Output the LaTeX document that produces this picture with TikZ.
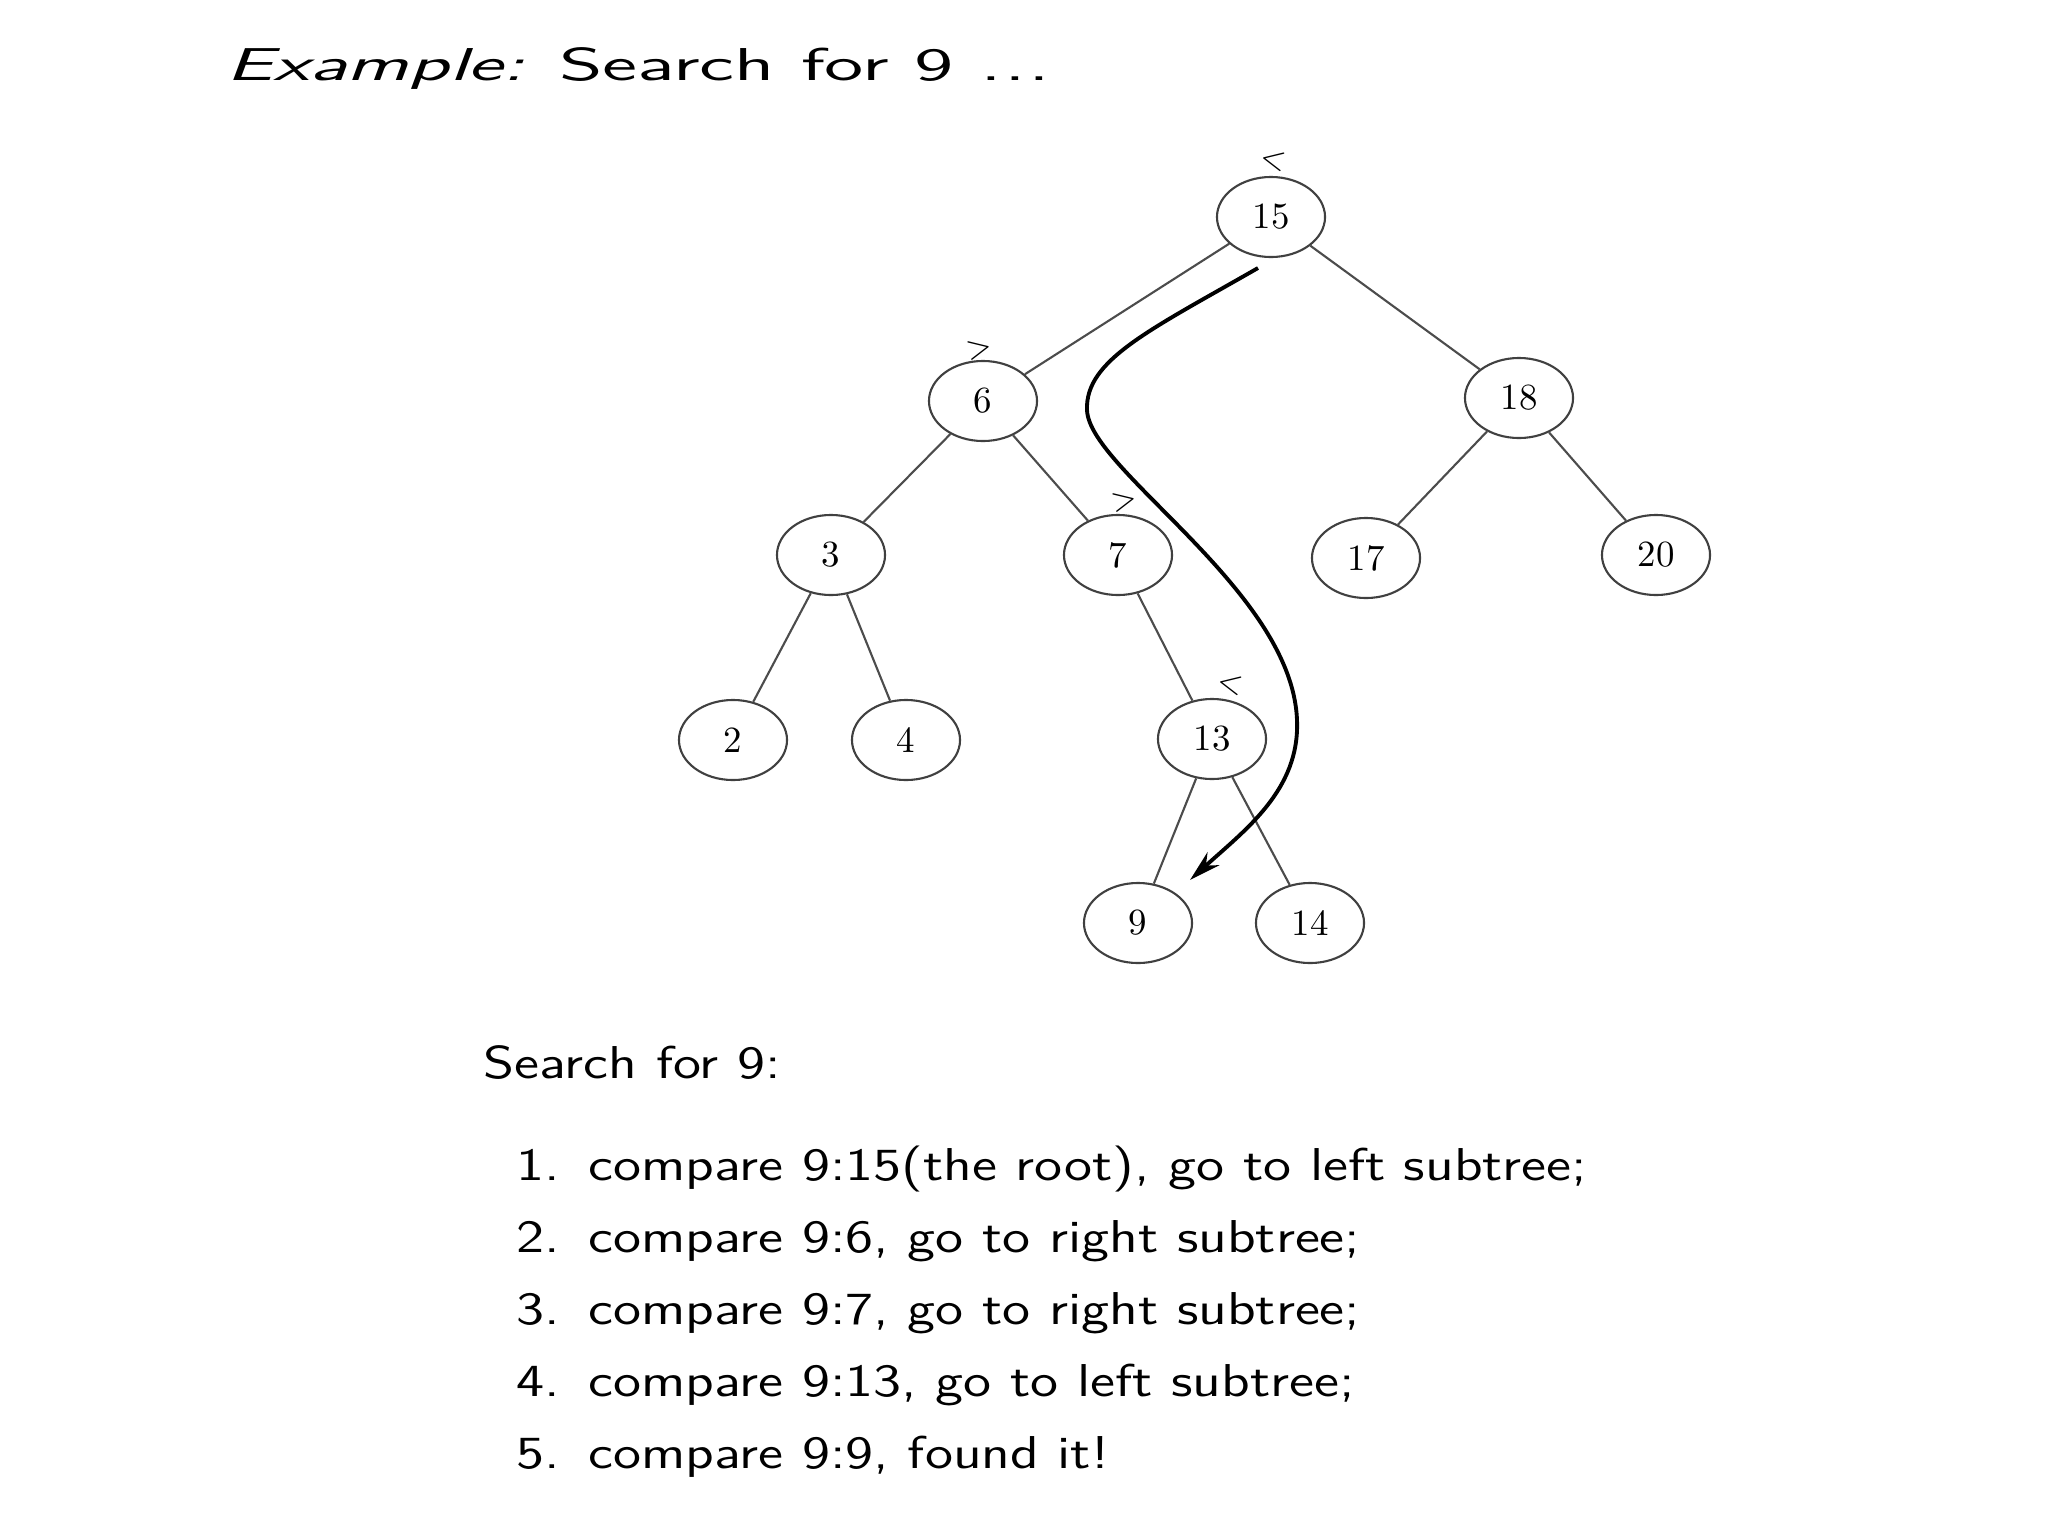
\documentclass[tikz,border=0pt]{standalone}
\usepackage{fontspec}
\usepackage{graphicx}
\usetikzlibrary{shapes.geometric,arrows.meta}
\tikzset{
  tnode/.style={draw=black!75, line width=0.6pt, ellipse, minimum width=1.08cm, minimum height=0.80cm, inner sep=0pt, font=\fontsize{10.5}{12}\selectfont},
  tedge/.style={draw=black!70, line width=0.6pt},
  cmp/.style={inner sep=0pt, font=\fontsize{9}{10}\selectfont},
  txt/.style={inner sep=0pt, anchor=base west, font=\sffamily\fontsize{13.1}{16}\selectfont},
  searchpath/.style={draw=black, line width=1.1pt, -{Stealth[length=9pt,width=5pt]}}
}
\newcommand{\wideline}[1]{\scalebox{1.24}[1]{#1}}
\begin{document}
\begin{tikzpicture}[x=0.01cm,y=-0.01cm]
\useasboundingbox (0,0) rectangle (2048,1536);
% title
\node[txt] (title) at (226,80) {\scalebox{1.74}[1]{\textsl{Example:} Search for 9 .\kern0.03em.\kern0.03em.}};
% tree
\node[tnode] (n15) at (1271,217) {15};
\node[tnode] (n6)  at (983,401)  {6};
\node[tnode] (n18) at (1519,398) {18};
\node[tnode] (n3)  at (831,555)  {3};
\node[tnode] (n7)  at (1118,555) {7};
\node[tnode] (n17) at (1366,558) {17};
\node[tnode] (n20) at (1656,555) {20};
\node[tnode] (n2)  at (733,740)  {2};
\node[tnode] (n4)  at (906,740)  {4};
\node[tnode] (n13) at (1212,739) {13};
\node[tnode] (n9)  at (1138,923) {9};
\node[tnode] (n14) at (1310,923) {14};
\draw[tedge] (n15) -- (n6);
\draw[tedge] (n15) -- (n18);
\draw[tedge] (n6) -- (n3);
\draw[tedge] (n6) -- (n7);
\draw[tedge] (n18) -- (n17);
\draw[tedge] (n18) -- (n20);
\draw[tedge] (n3) -- (n2);
\draw[tedge] (n3) -- (n4);
\draw[tedge] (n7) -- (n13);
\draw[tedge] (n13) -- (n9);
\draw[tedge] (n13) -- (n14);
% comparison marks
\node[cmp,rotate=-12] (c15) at (1273,160) {$<$};
\node[cmp,rotate=12]  (c6)  at (979,349)  {$>$};
\node[cmp,rotate=12]  (c7)  at (1124,501) {$>$};
\node[cmp,rotate=-12] (c13) at (1230,684) {$<$};
% search path
\coordinate (s0) at (1258,268);
\coordinate (s1) at (1087,410);
\coordinate (s2) at (1297,720);
\coordinate (s3) at (1190,880);
\draw[searchpath] (s0) .. controls (1150,330) and (1085,360) .. (s1)
  .. controls (1089,470) and (1292,590) .. (s2)
  .. controls (1300,790) and (1245,830) .. (s3);
% text
\node[txt] (head) at (483,1078) {\wideline{Search for 9:}};
\node[txt] (i1) at (516,1180) {\wideline{1.\hspace{0.5em}compare 9:15(the root), go to left subtree;}};
\node[txt] (i2) at (516,1252) {\wideline{2.\hspace{0.5em}compare 9:6, go to right subtree;}};
\node[txt] (i3) at (516,1324) {\wideline{3.\hspace{0.5em}compare 9:7, go to right subtree;}};
\node[txt] (i4) at (516,1396) {\wideline{4.\hspace{0.5em}compare 9:13, go to left subtree;}};
\node[txt] (i5) at (516,1468) {\wideline{5.\hspace{0.5em}compare 9:9, found it!}};
\end{tikzpicture}
\end{document}
